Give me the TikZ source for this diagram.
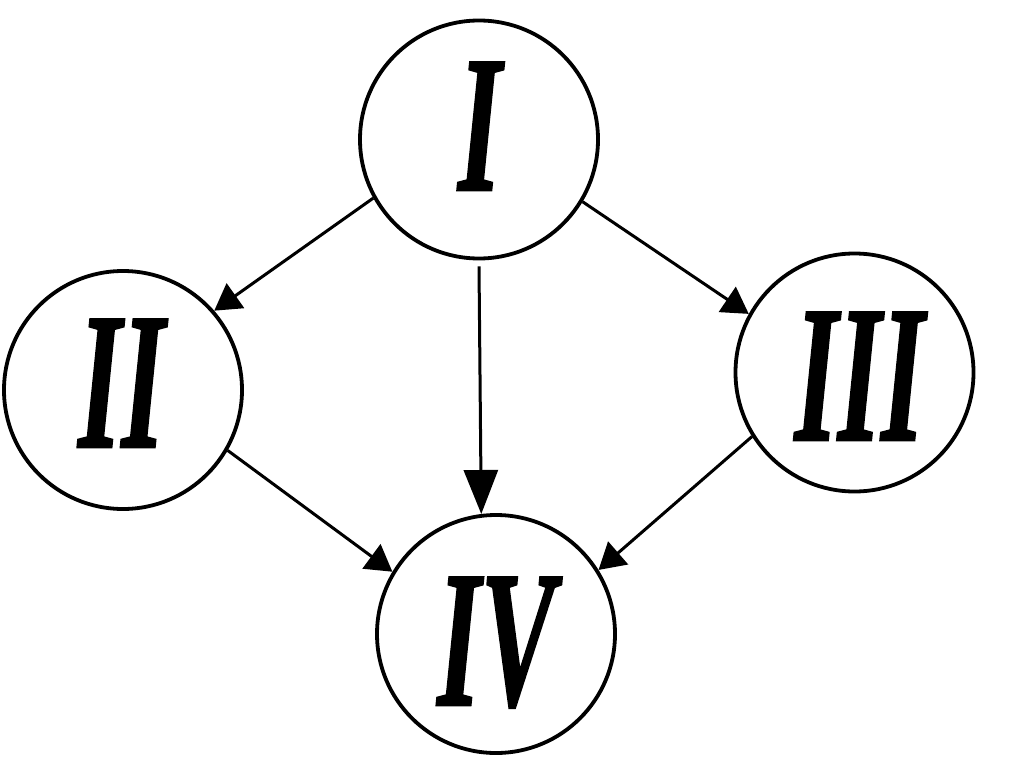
\documentclass[tikz,border=0pt]{standalone}
\usepackage{fontspec}
\usepackage{graphicx}
\setmainfont{Liberation Serif}
\newfontface\numface{Liberation Serif Bold Italic}[FakeBold=1.3]
\usetikzlibrary{arrows.meta}
\tikzset{
  state/.style={circle, draw, line width=3.8pt, minimum size=238pt, inner sep=0pt},
  numeral/.style={anchor=base, inner sep=0pt, font=\fontsize{195}{195}\selectfont\numface},
  link/.style={line width=3pt, -{Triangle[length=26pt,width=30pt]}},
  biglink/.style={line width=3pt, -{Triangle[length=44pt,width=34pt]}}
}
\newcommand{\cond}[1]{\scalebox{0.57}[1]{#1}}
\begin{document}
\begin{tikzpicture}[x=1pt,y=-1pt]
\useasboundingbox (0,0) rectangle (1024,768);
\node[state] (I) at (479,139.5) {};
\node[state] (II) at (123,390) {};
\node[state] (III) at (854.5,372.5) {};
\node[state] (IV) at (496,634) {};
\node[numeral] (tI) at (479.7,190) {\cond{I}};
\node[numeral] (tII) at (121.5,447) {\cond{II}};
\node[numeral] (tIII) at (859.5,440) {\cond{III}};
\node[numeral] (tIV) at (496,705) {\cond{IV}};
\draw[link] (I.209.5) -- (II.41);
\draw[biglink] ([yshift=-6pt]I.270.4) -- (IV.97);
\draw[link] (I.329.1) -- (III.151.5);
\draw[link] (II.330) -- (IV.149.6);
\draw[link] (III.212.4) -- (IV.32.8);
\end{tikzpicture}
\end{document}
